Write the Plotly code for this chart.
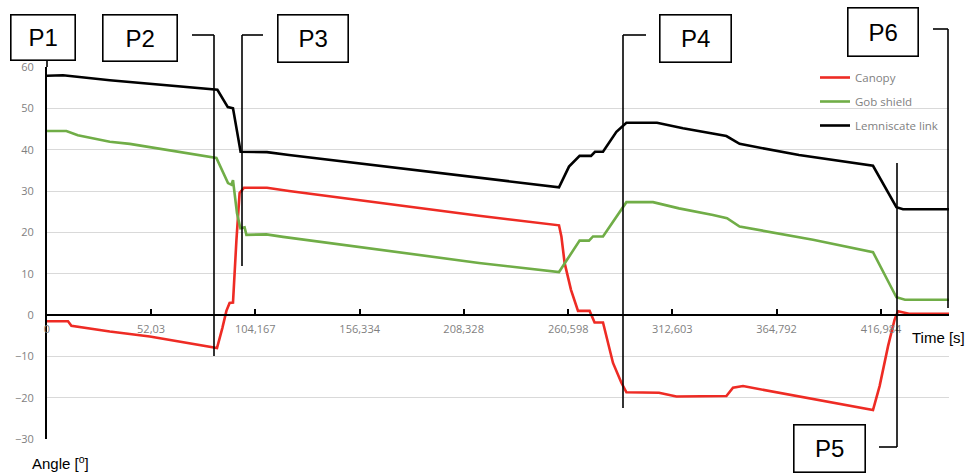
import plotly.graph_objects as go

# ---------------- data ----------------
tick_vals = [0, 52.03, 104.167, 156.334, 208.328, 260.598, 312.603, 364.792, 416.984]
tick_text = ["0", "52,03", "104,167", "156,334", "208,328", "260,598", "312,603", "364,792", "416,984"]

t_canopy = [0, 10.5, 12.2, 31.4, 51.4, 83, 85, 87.7, 89.7, 91.3, 93, 94.7, 96.3, 98.5, 110, 121,
            216, 256, 257.2, 258.8, 262, 265.5, 271.3, 273.8, 278, 283, 287.2, 289.7, 306, 314.7,
            324.7, 339.7, 343, 348, 413, 416.3, 420.5, 423.8, 425.5, 431, 451]
canopy = [-1.5, -1.5, -2.6, -4.0, -5.2, -8.0, -8.0, -3.1, 1.0, 2.9, 3.0, 18.0, 29.5, 30.8, 30.8, 30.0,
          24.0, 21.7, 19.0, 12.6, 6.1, 1.0, 1.0, -1.8, -1.8, -11.6, -16.4, -18.7, -18.8, -19.7,
          -19.6, -19.6, -17.6, -17.2, -23.0, -17.2, -7.6, -1.1, 0.9, 0.3, 0.3]

t_gob = [0, 9.7, 15.4, 31.4, 41.4, 83, 84.7, 90.5, 92.2, 93, 95, 96.7, 98.8, 99.7, 109.7, 118,
         216, 256, 260, 266.3, 271, 273, 278, 288, 289.7, 303, 316, 333, 340, 346.3, 383, 413,
         424.7, 429, 451]
gob = [44.5, 44.5, 43.5, 41.9, 41.4, 38.2, 38.0, 31.9, 31.5, 32.6, 24.6, 21.0, 21.2, 19.4, 19.5, 18.9,
       12.6, 10.4, 13.4, 18.0, 18.0, 19.0, 19.0, 26.2, 27.3, 27.3, 25.8, 24.2, 23.4, 21.4, 18.2, 15.2,
       4.3, 3.7, 3.7]

t_link = [0, 8, 31.4, 83, 85.2, 90.4, 93, 96.8, 98.8, 110, 121, 216, 256, 261, 266.3, 272, 274,
          278, 284.7, 289.7, 305, 318, 331, 339.7, 346.3, 376, 413, 424.7, 428, 451]
link = [57.9, 58.0, 56.8, 54.7, 54.5, 50.3, 50.0, 39.5, 39.5, 39.4, 38.7, 33.2, 30.9, 35.9, 38.5, 38.5,
        39.5, 39.5, 44.3, 46.5, 46.5, 45.2, 44.1, 43.3, 41.4, 38.7, 36.1, 26.1, 25.6, 25.6]

series_names = ["Canopy", "Gob shield", "Lemniscate link"]
series_colors = ["#ee2b24", "#70ad47", "#000000"]

point_labels = ["P1", "P2", "P3", "P4", "P5", "P6"]

# ---------------- layout helpers (pixel -> paper) ----------------
W, H = 968, 475
ML, MR, MT, MB = 47, 19, 67, 36
PW, PH = W - ML - MR, H - MT - MB


def px(x):
    return (x - ML) / PW


def py(y):
    return (H - MB - y) / PH


fig = go.Figure()
for name, tx, vals, col in zip(series_names, [t_canopy, t_gob, t_link],
                               [canopy, gob, link], series_colors):
    fig.add_trace(go.Scatter(x=tx, y=vals, mode="lines", name=name, legendgroup=name,
                             line=dict(color=col, width=2.6)))

# label boxes: centre x, centre y, width, height (pixels)
boxes = [(43, 37.5, 66, 47), (140, 38, 76, 48), (313, 38.5, 72, 49),
         (695.5, 38.5, 73, 49), (829.5, 448.5, 73, 49), (883, 32, 72, 50)]
annotations = []
for lab, (cx, cy, bw, bh) in zip(point_labels, boxes):
    annotations.append(dict(x=px(cx), y=py(cy), xref="paper", yref="paper", text=lab,
                            showarrow=False, xanchor="center", yanchor="middle",
                            width=bw - 5, height=bh - 5, borderpad=1,
                            bordercolor="#000000", borderwidth=1.6, bgcolor="#ffffff",
                            font=dict(family="Liberation Sans", size=24, color="#000000")))

annotations.append(dict(x=px(910), y=py(337), xref="paper", yref="paper", text="Time [s]",
                        showarrow=False, xanchor="left", yanchor="middle",
                        font=dict(family="Liberation Sans", size=15, color="#000000")))
annotations.append(dict(x=px(30), y=py(462), xref="paper", yref="paper",
                        text="Angle [<sup>o</sup>]",
                        showarrow=False, xanchor="left", yanchor="middle",
                        font=dict(family="Liberation Sans", size=15, color="#000000")))

# leader lines (pixel polylines)
leaders = [
    [(47, 61), (47, 67)],
    [(192, 35), (214, 35), (214, 356)],
    [(263, 35), (242, 35), (242, 266)],
    [(646, 35), (623, 35), (623, 408)],
    [(879, 447), (897, 447), (897, 163)],
    [(933, 29), (948, 29), (948, 308)],
]
shapes = []
# white mask behind the legend (hides gridlines like the original legend box)
shapes.append(dict(type="rect", xref="paper", yref="paper", x0=px(794), x1=px(949),
                   y0=py(140), y1=py(66), fillcolor="#ffffff", line=dict(width=0),
                   layer="between"))
for pts in leaders:
    for (x0, y0), (x1, y1) in zip(pts[:-1], pts[1:]):
        shapes.append(dict(type="line", xref="paper", yref="paper",
                           x0=px(x0), y0=py(y0), x1=px(x1), y1=py(y1),
                           line=dict(color="#000000", width=1.6), layer="above"))

fig.update_layout(
    width=W, height=H,
    margin=dict(l=ML, r=MR, t=MT, b=MB),
    paper_bgcolor="#ffffff", plot_bgcolor="#ffffff",
    font=dict(family="Open Sans", size=11, color="#7f7f7f"),
    showlegend=True,
    legend=dict(x=px(815), y=py(63), xanchor="left", yanchor="top",
                bgcolor="rgba(255,255,255,0)", traceorder="grouped", tracegroupgap=5,
                font=dict(family="Open Sans", size=11.5, color="#7f7f7f"),
                itemwidth=30),
    xaxis=dict(range=[0, 451], tickvals=tick_vals, ticktext=tick_text,
               anchor="free", position=1 / 3, showline=True, linecolor="#000000",
               linewidth=2, ticks="inside", ticklen=5, tickwidth=1.5, tickcolor="#000000",
               showgrid=False, zeroline=False, ticklabelstandoff=4,
               tickfont=dict(family="Open Sans", size=11, color="#7f7f7f")),
    yaxis=dict(range=[-30, 60], dtick=10, tick0=0, domain=[0, 1], showline=True,
               linecolor="#000000", linewidth=2, showgrid=True, gridcolor="#d9d9d9",
               gridwidth=1, zeroline=False, ticks="", ticklabelstandoff=9,
               tickfont=dict(family="Open Sans", size=11, color="#7f7f7f")),
    annotations=annotations,
    shapes=shapes,
)

fig.write_html("out.html", config={"displayModeBar": False},
               post_script="document.body.style.margin='0';document.body.style.padding='0';")
